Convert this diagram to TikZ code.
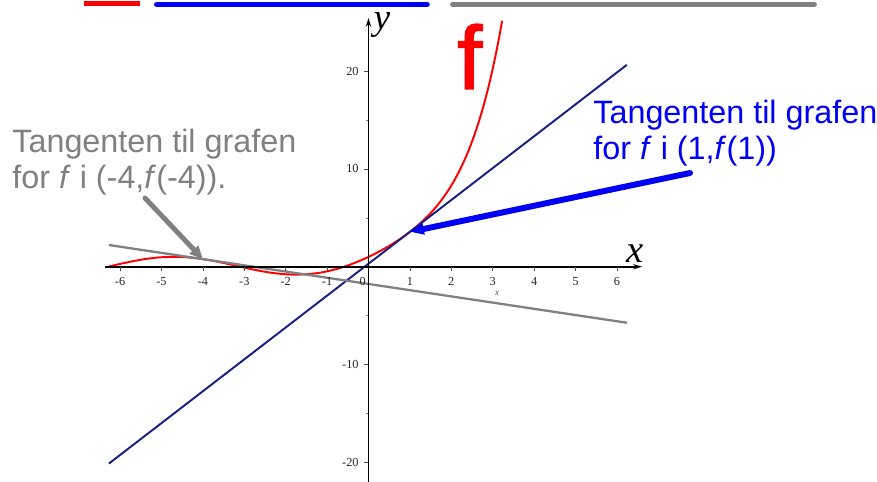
\documentclass[tikz,border=0pt]{standalone}
\usepackage{fontspec}
\setmainfont{Liberation Serif}
\newfontfamily\arialfont{Liberation Sans}
\newfontfamily\fnamefont[FakeBold=1.6]{Liberation Sans}
\usetikzlibrary{arrows.meta}

\definecolor{tanblue}{RGB}{25,30,130}
\definecolor{noteblue}{RGB}{0,0,245}
\definecolor{notegray}{RGB}{128,128,128}

\begin{document}
\begin{tikzpicture}[x=0.828cm, y=0.1956cm,
    declare function={f(\x)=exp(\x)+sin(\x r);},
    axis/.style={line width=1.1pt, -{Stealth[length=5pt,width=3pt]}},
    ticklabel/.style={font=\fontsize{7}{8}\selectfont, text=black!85, inner sep=0pt},
    note/.style={font=\arialfont\fontsize{18.4}{21}\selectfont, align=left, inner sep=0pt, anchor=base west},
    arrow/.style={line cap=round}
]
    \useasboundingbox (-8.901,-22.014) rectangle (12.283,27.270);

    % legend strokes at the top edge
    \draw[red, line width=2.8pt] (-6.872,26.95) -- (-5.519,26.95);
    \draw[noteblue, line width=3.4pt, line cap=round] (-5.11,26.81) -- (1.41,26.81);
    \draw[notegray, line width=3.4pt, line cap=round] (2.04,26.81) -- (10.76,26.81);

    % graph and tangents
    \coordinate (T1) at (1,{f(1)});
    \coordinate (T4) at (-4,{f(-4)});
    \draw[red, line width=1.1pt, domain=-6.28:3.23, samples=150, smooth] plot (\x,{f(\x)});
    \draw[tanblue, line width=1.1pt] (-6.27,{3.25858*(-7.27)+3.55975}) -- (T1) -- (6.24,{3.25858*5.24+3.55975});
    \draw[notegray, line width=1.3pt] (-6.27,{-0.635328*(-2.27)+0.775118}) -- (T4) -- (6.24,{-0.635328*10.24+0.775118});

    % axes
    \draw[axis] (-6.365,0) -- (6.606,0);
    \draw[axis] (0,-22.0) -- (0,25.43);
    \foreach \i in {-6,...,-1,1,2,...,6} {
        \draw[line width=0.4pt, black!70] (\i,0) -- ++(0,-0.45);
        \node[ticklabel] at (\i,-1.53) {\i};
    }
    \node[ticklabel] at (-0.14,-1.53) {0};
    \foreach \j in {-20,-10,10,20} {
        \draw[line width=0.4pt, black!70] (0,\j) -- ++(-0.1,0);
        \node[ticklabel, anchor=east] at (-0.23,\j) {\j};
    }
    \foreach \j in {-15,-5,5,15}
        \draw[line width=0.3pt, black!50] (0,\j) -- ++(-0.05,0);
    \node[inner sep=0pt, font=\fontsize{22}{24}\selectfont\itshape] (xlab) at (6.437,1.30) {x};
    \node[inner sep=0pt, font=\fontsize{21}{24}\selectfont\itshape] (ylab) at (0.326,24.71) {y};
    \node[inner sep=0pt, font=\fontsize{5}{6}\selectfont\itshape, text=black!70] (xsmall) at (3.104,-2.69) {x};

    % labels and pointers
    \node[inner sep=0pt, anchor=base west, text=red, font=\fnamefont\fontsize{51}{54}\selectfont] (fname) at (2.14,18.17) {f};
    \node[note, text=notegray] (gnote) at (-8.611,7.945) {Tangenten til grafen\\for \textit{f} i (-4,\textit{f}(-4)).};
    \node[note, text=noteblue] (bnote) at (5.423,10.91) {Tangenten til grafen\\for \textit{f} i (1,\textit{f}(1))};
    \coordinate (gstart) at (-5.399,7.02);
    \coordinate (bstart) at (7.766,9.58);
    \draw[arrow, notegray, line width=2.8pt, -{Triangle[length=7.5pt,width=6.5pt]}] (gstart) -- (T4);
    \draw[arrow, noteblue, line width=3.4pt, -{Triangle[length=8pt,width=6pt]}] (bstart) -- (T1);
\end{tikzpicture}
\end{document}
